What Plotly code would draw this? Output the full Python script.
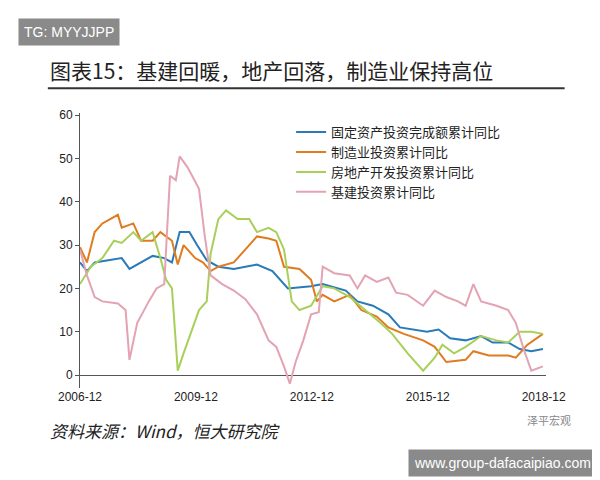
import plotly.graph_objects as go

# decimal years
fai_x = [2006.92, 2007.1, 2007.3, 2007.6, 2008.0, 2008.2, 2008.5, 2008.8, 2009.1, 2009.3, 2009.5, 2009.75, 2009.95,
         2010.2, 2010.5, 2010.9, 2011.2, 2011.5, 2011.9, 2012.2, 2012.3, 2012.9, 2013.2, 2013.8, 2014.1, 2014.5,
         2014.9, 2015.2, 2015.6, 2015.9, 2016.2, 2016.5, 2016.9, 2017.3, 2017.6, 2018.0, 2018.3, 2018.6, 2018.9]
fai_y = [26, 24, 26, 26.5, 27, 24.5, 26, 27.5, 27, 26, 33, 33, 30,
         26.5, 25, 24.5, 25, 25.5, 24, 21, 20, 20.5, 21, 19.5, 17, 16,
         14, 11, 10.5, 10, 10.5, 8.5, 8, 9, 7.5, 7.5, 6, 5.5, 6]

mfg_x = [2006.92, 2007.1, 2007.3, 2007.5, 2007.9, 2008.0, 2008.3, 2008.5, 2008.8, 2009.0, 2009.3, 2009.45, 2009.6,
         2009.9, 2010.1, 2010.3, 2010.5, 2010.9, 2011.3, 2011.5, 2011.8, 2012.0, 2012.2, 2012.6, 2012.9, 2013.05,
         2013.2, 2013.5, 2013.9, 2014.2, 2014.6, 2014.9, 2015.3, 2015.8, 2016.1, 2016.4, 2016.9, 2017.1, 2017.5,
         2018.0, 2018.2, 2018.5, 2018.9]
mfg_y = [29.5, 26, 33, 35, 37, 34, 35, 31, 31, 33, 31, 25.5, 30,
         27, 26, 24, 25, 26, 30, 32, 31.5, 31, 25, 24.5, 22, 17,
         18.5, 17, 18.5, 15, 13.5, 11, 9.5, 8, 6.5, 3, 3.5, 5.5, 4.5,
         4.5, 4, 7, 9.5]

re_x = [2006.92, 2007.2, 2007.5, 2007.8, 2008.0, 2008.3, 2008.5, 2008.8, 2009.0, 2009.15, 2009.3, 2009.45, 2009.6,
        2009.8, 2010.0, 2010.2, 2010.3, 2010.5, 2010.7, 2011.0, 2011.3, 2011.5, 2011.8, 2012.0, 2012.2, 2012.4,
        2012.6, 2012.9, 2013.2, 2013.5, 2013.9, 2014.3, 2014.7, 2015.0, 2015.4, 2015.8, 2016.1, 2016.3, 2016.6,
        2016.9, 2017.3, 2017.7, 2018.0, 2018.3, 2018.6, 2018.9]
re_y = [21, 25, 27, 31, 30.5, 33, 31, 33, 27, 22, 20, 1, 5,
        10, 15, 17, 28, 36, 38, 36, 36, 33, 34, 33, 29, 17,
        15, 16, 20.5, 20, 18, 15, 12, 9.5, 5, 1, 4, 7, 5,
        6.5, 9, 8, 7.5, 10, 10, 9.5]

infra_x = [2006.92, 2007.1, 2007.3, 2007.5, 2007.9, 2008.1, 2008.2, 2008.4, 2008.7, 2008.9, 2009.1, 2009.25, 2009.4,
           2009.5, 2009.7, 2010.0, 2010.15, 2010.3, 2010.6, 2010.9, 2011.2, 2011.5, 2011.8, 2012.0, 2012.2, 2012.35,
           2012.5, 2012.7, 2012.9, 2013.1, 2013.2, 2013.5, 2013.9, 2014.1, 2014.3, 2014.6, 2014.9, 2015.1, 2015.4,
           2015.8, 2016.1, 2016.4, 2016.7, 2016.9, 2017.1, 2017.3, 2017.7, 2018.0, 2018.2, 2018.4, 2018.6, 2018.9]
infra_y = [29, 23, 18, 17, 16.5, 15, 3.5, 12, 17, 20, 21, 46, 45,
           50.5, 48, 43, 32, 23, 21, 19.5, 17.5, 14, 8, 6.5, 2, -2,
           3, 8, 14, 14.5, 25, 23.5, 23, 20, 23, 21.5, 22.5, 19, 18.5,
           16, 19.5, 18, 17, 16, 21, 17, 16, 15, 12, 6, 1, 2]

tick_vals = [2006.92, 2009.92, 2012.92, 2015.92, 2018.92]
tick_text = ["2006-12", "2009-12", "2012-12", "2015-12", "2018-12"]

fig = go.Figure()
series = [
    ("固定资产投资完成额累计同比", fai_x, fai_y, "#2a7ab8"),
    ("制造业投资累计同比", mfg_x, mfg_y, "#e07b1f"),
    ("房地产开发投资累计同比", re_x, re_y, "#a9cf5b"),
    ("基建投资累计同比", infra_x, infra_y, "#e3a3b3"),
]
for name, xs, ys, col in series:
    fig.add_trace(go.Scatter(x=xs, y=ys, name=name, mode="lines", line=dict(color=col, width=2)))

fig.update_layout(
    width=600, height=480,
    margin=dict(l=72, r=62, t=105, b=100),
    paper_bgcolor="white", plot_bgcolor="white",
    font=dict(family="Noto Sans CJK SC", color="#222"),
    showlegend=True,
    legend=dict(x=0.453, y=0.985, xanchor="left", yanchor="top", bgcolor="rgba(0,0,0,0)",
                font=dict(size=13, color="#222"), tracegroupgap=2, itemwidth=30),
    xaxis=dict(range=[2006.92, 2018.98], tickvals=tick_vals, ticktext=tick_text, showgrid=False,
               showline=False, ticks="", tickfont=dict(size=12, family="Liberation Sans")),
    yaxis=dict(range=[-3, 60.5], tickvals=[0, 10, 20, 30, 40, 50, 60], showgrid=False, showline=True,
               linecolor="#555", zeroline=True, zerolinecolor="#555", zerolinewidth=1,
               ticks="outside", ticklen=4, tickcolor="#555", tickfont=dict(size=12, family="Liberation Sans")),
)

fig.add_annotation(text="图表15：基建回暖，地产回落，制造业保持高位", xref="paper", yref="paper",
                   x=-0.069, y=1.156, xanchor="left", yanchor="middle", showarrow=False,
                   font=dict(size=21, color="#222"))
fig.add_shape(type="line", xref="paper", yref="paper", x0=-0.069, x1=1.04, y0=1.09, y1=1.09,
              line=dict(color="#333", width=2))
fig.add_annotation(text="TG: MYYJJPP", xref="paper", yref="paper", x=-0.133, y=1.345,
                   xanchor="left", yanchor="top", showarrow=False, bgcolor="#8a8a8a",
                   font=dict(size=14, color="white", family="Liberation Sans"), borderpad=5)
fig.add_annotation(text="<i>资料来源：Wind，恒大研究院</i>", xref="paper", yref="paper",
                   x=-0.069, y=-0.156, xanchor="left", yanchor="middle", showarrow=False,
                   font=dict(size=17, color="#222"))
fig.add_annotation(text="泽平宏观", xref="paper", yref="paper", x=1.058, y=-0.116,
                   xanchor="right", yanchor="middle", showarrow=False, font=dict(size=11, color="#888"))
fig.add_annotation(text="www.group-dafacaipiao.com", xref="paper", yref="paper", x=1.11, y=-0.273,
                   xanchor="right", yanchor="middle", showarrow=False, bgcolor="#8a8a8a",
                   font=dict(size=14, color="white", family="Liberation Sans"), borderpad=5)

fig.write_html("out.html")
